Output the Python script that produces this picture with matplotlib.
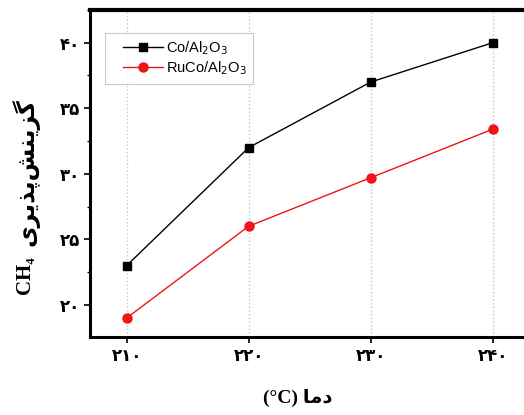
import numpy as np
import matplotlib
matplotlib.use('Agg')
import matplotlib.pyplot as plt
from matplotlib.ticker import MultipleLocator
from matplotlib.legend_handler import HandlerLine2D


# DATA #

temps = [210, 220, 230, 240]
co_sel = [23.0, 32.0, 37.0, 40.0]
ruco_sel = [19.0, 26.0, 29.7, 33.4]

x_ticks = [210, 220, 230, 240]
x_labels = ['۲۱۰', '۲۲۰', '۲۳۰', '۲۴۰']
y_ticks = [20, 25, 30, 35, 40]
y_labels = ['۲۰', '۲۵', '۳۰', '۳۵', '۴۰']

# presentation forms, visual order (matplotlib does no arabic shaping)
fa_temp = '\uFE8E\uFEE3\uFEA9'  # دما
fa_sel = '\uFBFC\uFEAE\uFBFE\uFEAC\uFB58\uFEB6\uFEE8\uFBFE\uFEB0\uFB94'  # گزینش‌پذیری

label_font = ['Liberation Serif', 'DejaVu Sans']


# FIGURE #

fig = plt.figure(figsize=(5.24, 4.15), dpi=100)
ax = fig.add_axes([0.172, 0.188, 0.838, 0.788])

line_co, = ax.plot(temps, co_sel, color='black', marker='s', markersize=6, lw=1,
                   label='Co/Al$_2$O$_3$')
line_ru, = ax.plot(temps, ruco_sel, color='#f01418', marker='o', markersize=6.5, lw=1,
                   label='RuCo/Al$_2$O$_3$')

ax.set_xlim(207, 243)
ax.set_ylim(17.55, 42.5)

ax.set_xticks(x_ticks)
ax.set_xticklabels(x_labels, fontsize=12, fontweight='bold', family='DejaVu Sans')
ax.set_yticks(y_ticks)
ax.set_yticklabels(y_labels, fontsize=12, fontweight='bold', family='DejaVu Sans')
ax.yaxis.set_minor_locator(MultipleLocator(2.5))

ax.tick_params(axis='both', which='major', direction='out', length=4, width=1.2, pad=3)
ax.tick_params(axis='y', which='minor', direction='out', length=2.5, width=1)

ax.xaxis.grid(True, color='#c8c8c8', ls=':', lw=1)

for side in ['left', 'bottom']:
    ax.spines[side].set_linewidth(2.2)
ax.spines['top'].set_linewidth(3)
ax.spines['right'].set_visible(False)

# axis titles
fig.text(0.569, 0.041, '(°C) ' + fa_temp, family=label_font, fontsize=14,
         fontweight='bold', ha='center', va='center')
fig.text(0.048, 0.337, 'CH₄', family=label_font, fontsize=15,
         fontweight='bold', rotation=90, ha='center', va='center')
fig.text(0.048, 0.585, fa_sel, family=label_font, fontsize=17,
         fontweight='bold', rotation=90, ha='center', va='center')

# legend: extra room left of the handles like the original
hmap = {line_co: HandlerLine2D(xpad=0.8), line_ru: HandlerLine2D(xpad=0.8)}
leg = ax.legend(loc='upper left', bbox_to_anchor=(0.034, 0.93), borderaxespad=0,
                prop={'family': 'Liberation Sans', 'size': 10.5},
                handler_map=hmap, frameon=True, fancybox=False,
                handlelength=3.55, handletextpad=0.15,
                borderpad=0.45, labelspacing=0.15)
leg.get_frame().set_edgecolor('#bbbbbb')
leg.get_frame().set_linewidth(0.8)

fig.savefig('out.png', dpi=100)
